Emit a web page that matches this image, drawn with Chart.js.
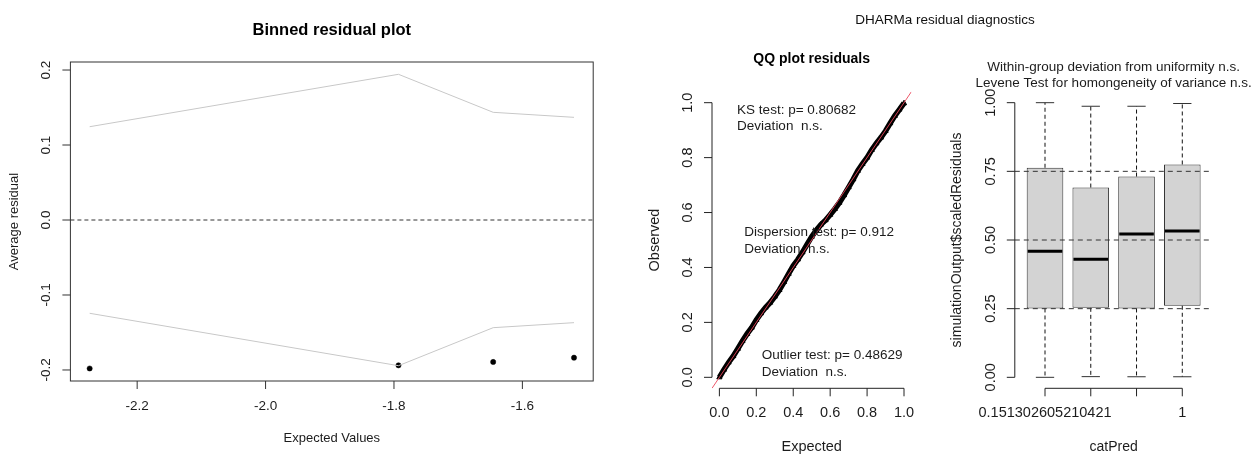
<!DOCTYPE html>
<html>
<head>
<meta charset="utf-8">
<script src="https://cdn.jsdelivr.net/npm/chart.js@4"></script>
<style>
  html, body { margin: 0; padding: 0; background: #fff; }
  #wrap { position: relative; width: 1256px; height: 455px; overflow: hidden; }
  canvas { position: absolute; top: 0; }
  #suptitle {
    position: absolute; left: 795px; width: 300px; top: 11px;
    text-align: center; white-space: nowrap; color: #111;
    font: 13.5px "Liberation Sans", Arial, sans-serif; line-height: 18px;
  }
</style>
</head>
<body>
<div id="wrap">
  <canvas id="binned" width="620" height="455" style="left:0px"></canvas>
  <canvas id="qq" width="310" height="455" style="left:620px"></canvas>
  <canvas id="box" width="326" height="455" style="left:930px"></canvas>
  <div id="suptitle">DHARMa residual diagnostics</div>
</div>
<script>
// ---- binned residual plot ----
const binExpected = [-2.274, -1.793, -1.6455, -1.5196];
const binAverage  = [-0.198, -0.1938, -0.1893, -0.1836];
const binUpper    = [0.1244, 0.1943, 0.1436, 0.1369];
const binLower    = [-0.1244, -0.1943, -0.1436, -0.1369];
const binXTicks   = [-2.2, -2.0, -1.8, -1.6];
const binYTicks   = [-0.2, -0.1, 0.0, 0.1, 0.2];

// ---- QQ plot (expected vs observed quantiles) ----
const qqExpected = [0, 0.025, 0.05, 0.075, 0.1, 0.125, 0.15, 0.175, 0.2, 0.225,
  0.25, 0.275, 0.3, 0.325, 0.35, 0.375, 0.4, 0.425, 0.45, 0.475,
  0.5, 0.525, 0.55, 0.575, 0.6, 0.625, 0.65, 0.675, 0.7, 0.725,
  0.75, 0.775, 0.8, 0.825, 0.85, 0.875, 0.9, 0.925, 0.95, 0.975, 1.0];
const qqObserved = [0, 0.028, 0.054, 0.077, 0.104, 0.132, 0.158, 0.181, 0.209, 0.233,
  0.254, 0.272, 0.294, 0.318, 0.347, 0.377, 0.406, 0.429, 0.455, 0.484,
  0.512, 0.536, 0.556, 0.572, 0.592, 0.613, 0.636, 0.663, 0.692, 0.721,
  0.752, 0.777, 0.800, 0.828, 0.852, 0.873, 0.897, 0.925, 0.952, 0.975, 0.998];
const qqTicks = [0, 0.2, 0.4, 0.6, 0.8, 1.0];
const qqTests = [
  ['KS test: p= 0.80682', 'Deviation  n.s.'],
  ['Dispersion test: p= 0.912', 'Deviation  n.s.'],
  ['Outlier test: p= 0.48629', 'Deviation  n.s.']
];

// ---- boxplot by group ----
const groupLabels = ['0.151302605210421', '', '', '1'];
const groupPos    = [1, 2, 3, 4];
const boxMin    = [0.0, 0.0025, 0.002, 0.002];
const boxQ1     = [0.2507, 0.253, 0.2507, 0.2605];
const boxMedian = [0.459, 0.4295, 0.522, 0.533];
const boxQ3     = [0.763, 0.691, 0.731, 0.775];
const boxMax    = [1.0, 0.987, 0.987, 0.997];
const boxYTicks = [0, 0.25, 0.5, 0.75, 1];
const boxRefLines = [0.25, 0.5, 0.75];

const FONT = '"Liberation Sans", Arial, sans-serif';
const INK = '#1c1c1c';

function text(ctx, s, x, y, font, opts = {}) {
  ctx.save();
  ctx.font = font;
  ctx.fillStyle = opts.color || INK;
  ctx.textAlign = opts.align || 'center';
  ctx.textBaseline = 'middle';
  ctx.translate(x, y);
  if (opts.rotate) ctx.rotate(-Math.PI / 2);
  ctx.fillText(s, 0, 0);
  ctx.restore();
}

function line(ctx, x1, y1, x2, y2, color, width, dash) {
  ctx.save();
  ctx.strokeStyle = color;
  ctx.lineWidth = width;
  ctx.setLineDash(dash || []);
  ctx.beginPath();
  ctx.moveTo(x1, y1);
  ctx.lineTo(x2, y2);
  ctx.stroke();
  ctx.restore();
}

function baseOptions(padding, xs, ys) {
  return {
    responsive: false,
    animation: false,
    devicePixelRatio: 1,
    layout: { padding: padding },
    plugins: { legend: { display: false }, tooltip: { enabled: false } },
    scales: { x: xs, y: ys }
  };
}

// ==========================
// 1. Binned residual plot
// ==========================
const binnedDecor = {
  id: 'binnedDecor',
  afterDatasetsDraw(chart) {
    const { ctx, chartArea: a, scales: { y } } = chart;
    const y0 = y.getPixelForValue(0);
    line(ctx, a.left, y0, a.right, y0, '#333', 1, [4, 3]);
  },
  afterDraw(chart) {
    const { ctx, chartArea: a, scales: { x, y } } = chart;
    ctx.save();
    ctx.strokeStyle = '#333';
    ctx.lineWidth = 1;
    ctx.strokeRect(a.left, a.top, a.right - a.left, a.bottom - a.top);
    ctx.restore();

    binXTicks.forEach(v => {
      const px = x.getPixelForValue(v);
      line(ctx, px, a.bottom, px, a.bottom + 8, '#333', 1);
      text(ctx, v.toFixed(1), px, a.bottom + 25, '13.5px ' + FONT);
    });
    binYTicks.forEach(v => {
      const py = y.getPixelForValue(v);
      line(ctx, a.left - 8, py, a.left, py, '#333', 1);
      text(ctx, v.toFixed(1), a.left - 24, py, '13.5px ' + FONT, { rotate: true });
    });

    const cx = (a.left + a.right) / 2;
    text(ctx, 'Binned residual plot', cx, a.top - 32, 'bold 16.5px ' + FONT, { color: '#000' });
    text(ctx, 'Expected Values', cx, a.bottom + 57, '13px ' + FONT);
    text(ctx, 'Average residual', a.left - 56, (a.top + a.bottom) / 2, '13px ' + FONT, { rotate: true });
  }
};

new Chart(document.getElementById('binned'), {
  type: 'scatter',
  data: {
    datasets: [
      {
        data: binExpected.map((v, i) => ({ x: v, y: binUpper[i] })),
        showLine: true, borderColor: '#c8c8c8', borderWidth: 1, pointRadius: 0
      },
      {
        data: binExpected.map((v, i) => ({ x: v, y: binLower[i] })),
        showLine: true, borderColor: '#c8c8c8', borderWidth: 1, pointRadius: 0
      },
      {
        data: binExpected.map((v, i) => ({ x: v, y: binAverage[i] })),
        showLine: false, pointRadius: 2.6, pointBackgroundColor: '#000',
        pointBorderColor: '#000', pointBorderWidth: 0.5
      }
    ]
  },
  options: baseOptions(
    { left: 70.4, right: 26.8, top: 62, bottom: 74 },
    { type: 'linear', min: -2.304, max: -1.4897, display: false },
    { type: 'linear', min: -0.2147, max: 0.2107, display: false }
  ),
  plugins: [binnedDecor]
});

// ==========================
// 2. QQ plot residuals
// ==========================
const qqDecor = {
  id: 'qqDecor',
  afterDatasetsDraw(chart) {
    const { ctx, chartArea: a, scales: { x, y } } = chart;
    // 1:1 reference line across the whole plot region
    ctx.save();
    ctx.beginPath();
    ctx.rect(a.left, a.top, a.right - a.left, a.bottom - a.top);
    ctx.clip();
    line(ctx, x.getPixelForValue(x.min), y.getPixelForValue(x.min),
      x.getPixelForValue(x.max), y.getPixelForValue(x.max), 'rgba(235,70,90,0.9)', 1);
    ctx.restore();
  },
  afterDraw(chart) {
    const { ctx, chartArea: a, scales: { x, y } } = chart;
    const f = '14.5px ' + FONT;
    // y axis
    line(ctx, a.left, y.getPixelForValue(0), a.left, y.getPixelForValue(1), '#222', 1);
    qqTicks.forEach(v => {
      const py = y.getPixelForValue(v);
      line(ctx, a.left - 8, py, a.left, py, '#222', 1);
      text(ctx, v.toFixed(1), a.left - 24, py, f, { rotate: true });
    });
    // x axis
    line(ctx, x.getPixelForValue(0), a.bottom, x.getPixelForValue(1), a.bottom, '#222', 1);
    qqTicks.forEach(v => {
      const px = x.getPixelForValue(v);
      line(ctx, px, a.bottom, px, a.bottom + 8, '#222', 1);
      text(ctx, v.toFixed(1), px, a.bottom + 25, f);
    });

    const cx = (a.left + a.right) / 2;
    text(ctx, 'QQ plot residuals', cx, a.top - 33, 'bold 14px ' + FONT, { color: '#000' });
    text(ctx, 'Expected', cx, a.bottom + 59, f);
    text(ctx, 'Observed', a.left - 57, (a.top + a.bottom) / 2, f, { rotate: true });

    // test results
    const tf = '13.5px ' + FONT;
    const anchors = [[0.096, 0.973], [0.135, 0.527], [0.2296, 0.079]];
    qqTests.forEach((t, i) => {
      const px = x.getPixelForValue(anchors[i][0]);
      const py = y.getPixelForValue(anchors[i][1]);
      text(ctx, t[0], px, py, tf, { align: 'left' });
      text(ctx, t[1], px, py + 16.5, tf, { align: 'left' });
    });
  }
};

new Chart(document.getElementById('qq'), {
  type: 'scatter',
  data: {
    datasets: [{
      data: qqExpected.map((v, i) => ({ x: v, y: qqObserved[i] })),
      showLine: true, borderColor: '#000', borderWidth: 5.5,
      pointStyle: 'triangle', pointRadius: 3,
      pointBackgroundColor: '#000', pointBorderColor: '#000', pointBorderWidth: 1
    }]
  },
  options: baseOptions(
    { left: 92, right: 18.6, top: 91.7, bottom: 66.7 },
    { type: 'linear', min: -0.04, max: 1.04, display: false },
    { type: 'linear', min: -0.04, max: 1.04, display: false }
  ),
  plugins: [qqDecor]
});

// ==========================
// 3. Within-group boxplot
// ==========================
const boxDecor = {
  id: 'boxDecor',
  afterDatasetsDraw(chart) {
    const { ctx, chartArea: a, scales: { y } } = chart;
    const bars = chart.getDatasetMeta(0).data;
    bars.forEach((bar, i) => {
      const half = bar.width / 2;
      const cap = bar.width / 4;
      const yMax = y.getPixelForValue(boxMax[i]);
      const yMin = y.getPixelForValue(boxMin[i]);
      const yQ1 = y.getPixelForValue(boxQ1[i]);
      const yQ3 = y.getPixelForValue(boxQ3[i]);
      const yMed = y.getPixelForValue(boxMedian[i]);
      line(ctx, bar.x, yQ3, bar.x, yMax, '#111', 1, [4, 3]);
      line(ctx, bar.x, yQ1, bar.x, yMin, '#111', 1, [4, 3]);
      line(ctx, bar.x - cap, yMax, bar.x + cap, yMax, '#333', 1);
      line(ctx, bar.x - cap, yMin, bar.x + cap, yMin, '#333', 1);
      line(ctx, bar.x - half + 1, yMed, bar.x + half - 1, yMed, '#000', 3);
    });
    boxRefLines.forEach(v => {
      const py = y.getPixelForValue(v);
      line(ctx, a.left, py, a.right, py, '#333', 1, [5, 4]);
    });
  },
  afterDraw(chart) {
    const { ctx, chartArea: a, scales: { x, y } } = chart;
    const f = '14.5px ' + FONT;
    line(ctx, a.left, y.getPixelForValue(0), a.left, y.getPixelForValue(1), '#222', 1);
    boxYTicks.forEach(v => {
      const py = y.getPixelForValue(v);
      line(ctx, a.left - 8, py, a.left, py, '#222', 1);
      text(ctx, v.toFixed(2), a.left - 24, py, f, { rotate: true });
    });
    line(ctx, x.getPixelForValue(groupPos[0]), a.bottom,
      x.getPixelForValue(groupPos[groupPos.length - 1]), a.bottom, '#222', 1);
    groupPos.forEach((p, i) => {
      const px = x.getPixelForValue(p);
      line(ctx, px, a.bottom, px, a.bottom + 8, '#222', 1);
      if (groupLabels[i]) text(ctx, groupLabels[i], px, a.bottom + 25, f);
    });

    const cx = (a.left + a.right) / 2;
    text(ctx, 'Within-group deviation from uniformity n.s.', cx, a.top - 24, '13.5px ' + FONT);
    text(ctx, 'Levene Test for homongeneity of variance n.s.', cx, a.top - 8.4, '13.5px ' + FONT);
    text(ctx, 'catPred', cx, a.bottom + 59, '14px ' + FONT);
    text(ctx, 'simulationOutput$scaledResiduals', a.left - 58, (a.top + a.bottom) / 2, '14px ' + FONT, { rotate: true });
  }
};

new Chart(document.getElementById('box'), {
  type: 'bar',
  data: {
    datasets: [{
      data: groupPos.map((p, i) => ({ x: p, y: [boxQ1[i], boxQ3[i]] })),
      backgroundColor: '#d3d3d3', borderColor: '#333', borderWidth: 1,
      borderSkipped: false, barPercentage: 0.8, categoryPercentage: 1
    }]
  },
  options: baseOptions(
    { left: 84.8, right: 43.5, top: 91.7, bottom: 66.7 },
    { type: 'linear', min: 0.34, max: 4.66, display: false, offset: false,
      ticks: { stepSize: 1, includeBounds: false } },
    { type: 'linear', min: -0.04, max: 1.04, display: false }
  ),
  plugins: [boxDecor]
});
</script>
</body>
</html>
